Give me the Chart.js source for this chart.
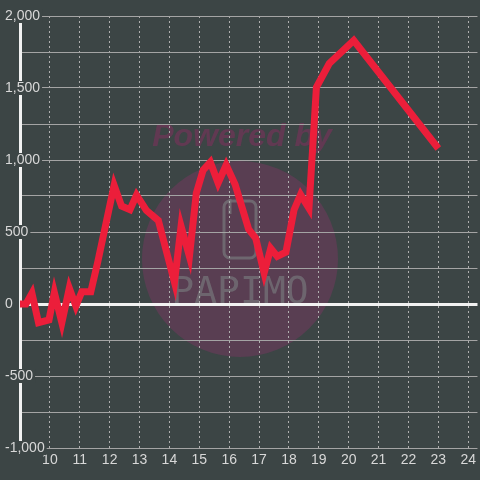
<!DOCTYPE html>
<html>
<head>
<meta charset="utf-8">
<style>
  html, body { margin: 0; padding: 0; background: #3c4545; }
  canvas { display: block; }
</style>
<script src="https://cdn.jsdelivr.net/npm/chart.js@4.4.1/dist/chart.umd.min.js"></script>
</head>
<body>
<canvas id="c" width="480" height="480"></canvas>
<script>
// ---- data (hours, value) ----
const times = [9.00, 9.20, 9.40, 9.62, 9.97, 10.15, 10.40, 10.65, 10.87, 11.07, 11.37, 11.60,
  12.15, 12.40, 12.68, 12.90, 13.23, 13.63, 14.17, 14.39, 14.67, 14.90, 15.13, 15.37,
  15.63, 15.90, 16.20, 16.65, 16.89, 17.17, 17.39, 17.61, 17.90, 18.17, 18.39, 18.67,
  18.92, 19.35, 20.17, 23.00];
const values = [0, 0, 75, -130, -110, 80, -130, 110, -15, 85, 85, 290,
  825, 680, 655, 757, 650, 580, 150, 540, 330, 770, 930, 985,
  840, 965, 830, 520, 456, 215, 387, 330, 360, 653, 760, 665,
  1505, 1670, 1830, 1080];
const xTickValues = [10, 11, 12, 13, 14, 15, 16, 17, 18, 19, 20, 21, 22, 23, 24];
const yLabeledValues = [-1000, -500, 0, 500, 1000, 1500, 2000];
const watermarkTitle = 'Powered by';
const watermarkLogo = 'PAPIMO';

const BG = '#3c4545';
const points = times.map((t, i) => ({ x: t, y: values[i] }));

const bgPlugin = {
  id: 'bgWatermark',
  beforeDraw(chart) {
    const ctx = chart.ctx;
    ctx.save();
    ctx.fillStyle = BG;
    ctx.fillRect(0, 0, chart.width, chart.height);
    // circle
    ctx.fillStyle = 'rgba(150,50,110,0.33)';
    ctx.beginPath();
    ctx.arc(240, 259, 98, 0, Math.PI * 2);
    ctx.fill();
    // Powered by
    ctx.font = 'italic bold 32px "Liberation Sans", Arial, sans-serif';
    ctx.fillStyle = 'rgba(150,40,100,0.42)';
    ctx.textAlign = 'center';
    ctx.textBaseline = 'alphabetic';
    ctx.fillText(watermarkTitle, 242, 146);
    // phone icon
    ctx.strokeStyle = 'rgba(118,118,122,0.75)';
    ctx.lineWidth = 3;
    ctx.beginPath();
    ctx.roundRect(224, 201, 32, 57, 6);
    ctx.stroke();
    ctx.beginPath();
    ctx.moveTo(230, 199);
    ctx.lineTo(230, 214);
    ctx.stroke();
    // logo text
    ctx.font = '38px "DejaVu Sans Mono", monospace';
    ctx.fillStyle = 'rgba(118,118,122,0.7)';
    ctx.fillText(watermarkLogo, 240, 303);
    ctx.restore();
  }
};

new Chart(document.getElementById('c'), {
  type: 'line',
  data: {
    datasets: [{
      data: points,
      borderColor: '#ec1e3a',
      borderWidth: 7,
      pointRadius: 0,
      tension: 0,
      fill: false
    }]
  },
  options: {
    responsive: false,
    animation: false,
    devicePixelRatio: 1,
    layout: { padding: { left: 6, top: 16, right: 0, bottom: 0 } },
    plugins: { legend: { display: false }, tooltip: { enabled: false } },
    scales: {
      x: {
        type: 'linear',
        min: 9,
        max: 24.31,
        afterBuildTicks(scale) {
          scale.ticks = xTickValues.map(v => ({ value: v }));
        },
        afterFit(scale) { scale.height = 32; },
        ticks: {
          autoSkip: false,
          maxRotation: 0,
          padding: 4,
          color: '#d8d8d8',
          font: { family: '"Liberation Sans", Arial, sans-serif', size: 14 },
          callback: v => String(v)
        },
        grid: {
          color: '#b0b0b0',
          lineWidth: 1,
          drawTicks: false
        },
        border: { display: false, dash: [2, 3] }
      },
      y: {
        type: 'linear',
        min: -1000,
        max: 2000,
        afterBuildTicks(scale) {
          const t = [];
          for (let v = -1000; v <= 2000; v += 250) t.push({ value: v });
          scale.ticks = t;
        },
        afterFit(scale) { scale.width = 14; },
        ticks: {
          mirror: true,
          crossAlign: 'near',
          padding: -15,
          color: '#d8d8d8',
          font: { family: '"Liberation Sans", Arial, sans-serif', size: 14, lineHeight: 1 },
          showLabelBackdrop: ctx => yLabeledValues.includes(ctx.tick.value),
          backdropColor: BG,
          backdropPadding: { top: 0, bottom: 0, left: 2, right: 2 },
          callback: v => yLabeledValues.includes(v) ? v.toLocaleString('en-US') : ''
        },
        grid: {
          color: ctx => ctx.tick && ctx.tick.value === 0 ? '#f2f2f2' : '#a4a4a4',
          lineWidth: ctx => ctx.tick && ctx.tick.value === 0 ? 3 : 1,
          drawTicks: false
        },
        border: { display: true, color: '#f2f2f2', width: 3 }
      }
    }
  },
  plugins: [bgPlugin]
});
</script>
</body>
</html>
